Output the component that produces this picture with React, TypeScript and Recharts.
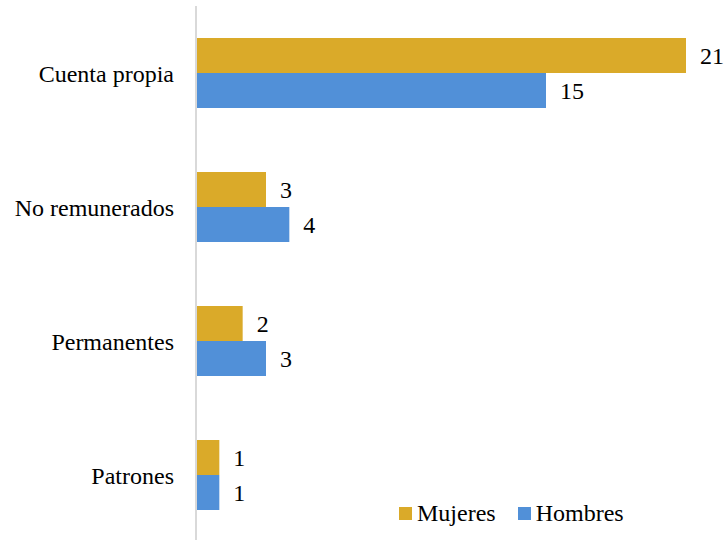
import { BarChart, Bar, XAxis, YAxis, LabelList, Legend } from "recharts";

const categories = ["Cuenta propia", "No remunerados", "Permanentes", "Patrones"];
const mujeres = [21, 3, 2, 1];
const hombres = [15, 4, 3, 1];
const seriesNames = ["Mujeres", "Hombres"];

const COLORS = [
  "#DAAA29", // gold
  "#5190D8", // blue
];

const FONT = '"Times New Roman", "Liberation Serif", "DejaVu Serif", serif';
const FS = 24;

const data = categories.map((name, i) => ({
  name,
  Mujeres: mujeres[i],
  Hombres: hombres[i],
}));

function LegendBox() {
  return (
    <div style={{ display: "flex", alignItems: "center", fontFamily: FONT, fontSize: FS, color: "#000" }}>
      {seriesNames.map((s, i) => (
        <div key={s} style={{ display: "flex", alignItems: "center", marginRight: 22 }}>
          <span style={{ width: 13, height: 13, background: COLORS[i], display: "inline-block", marginRight: 5 }} />
          <span>{s}</span>
        </div>
      ))}
    </div>
  );
}

export default function App() {
  return (
    <div style={{ position: "absolute", left: 0, top: 0, width: 724, height: 540, overflow: "hidden", background: "#fff", fontFamily: FONT }}>
      <BarChart
        width={724}
        height={548}
        data={data}
        layout="vertical"
        margin={{ top: 6, right: 38, bottom: 6, left: 0 }}
        barGap={0}
        barSize={35}
        style={{ fontFamily: FONT }}
      >
        <XAxis type="number" domain={[0, 21]} hide />
        <YAxis
          type="category"
          dataKey="name"
          width={196}
          tickLine={false}
          axisLine={{ stroke: "#d9d9d9", strokeWidth: 2 }}
          tickMargin={16}
          tick={{ fill: "#000", fontFamily: FONT, fontSize: FS }}
        />
        <Legend
          layout="horizontal"
          verticalAlign="middle"
          align="center"
          content={() => <LegendBox />}
          wrapperStyle={{ left: 399, top: 500, width: 320 }}
        />
        <Bar dataKey="Mujeres" fill={COLORS[0]} isAnimationActive={false}>
          <LabelList dataKey="Mujeres" position="right" offset={14} fill="#000" fontFamily={FONT} fontSize={FS} />
        </Bar>
        <Bar dataKey="Hombres" fill={COLORS[1]} isAnimationActive={false}>
          <LabelList dataKey="Hombres" position="right" offset={14} fill="#000" fontFamily={FONT} fontSize={FS} />
        </Bar>
      </BarChart>
    </div>
  );
}
